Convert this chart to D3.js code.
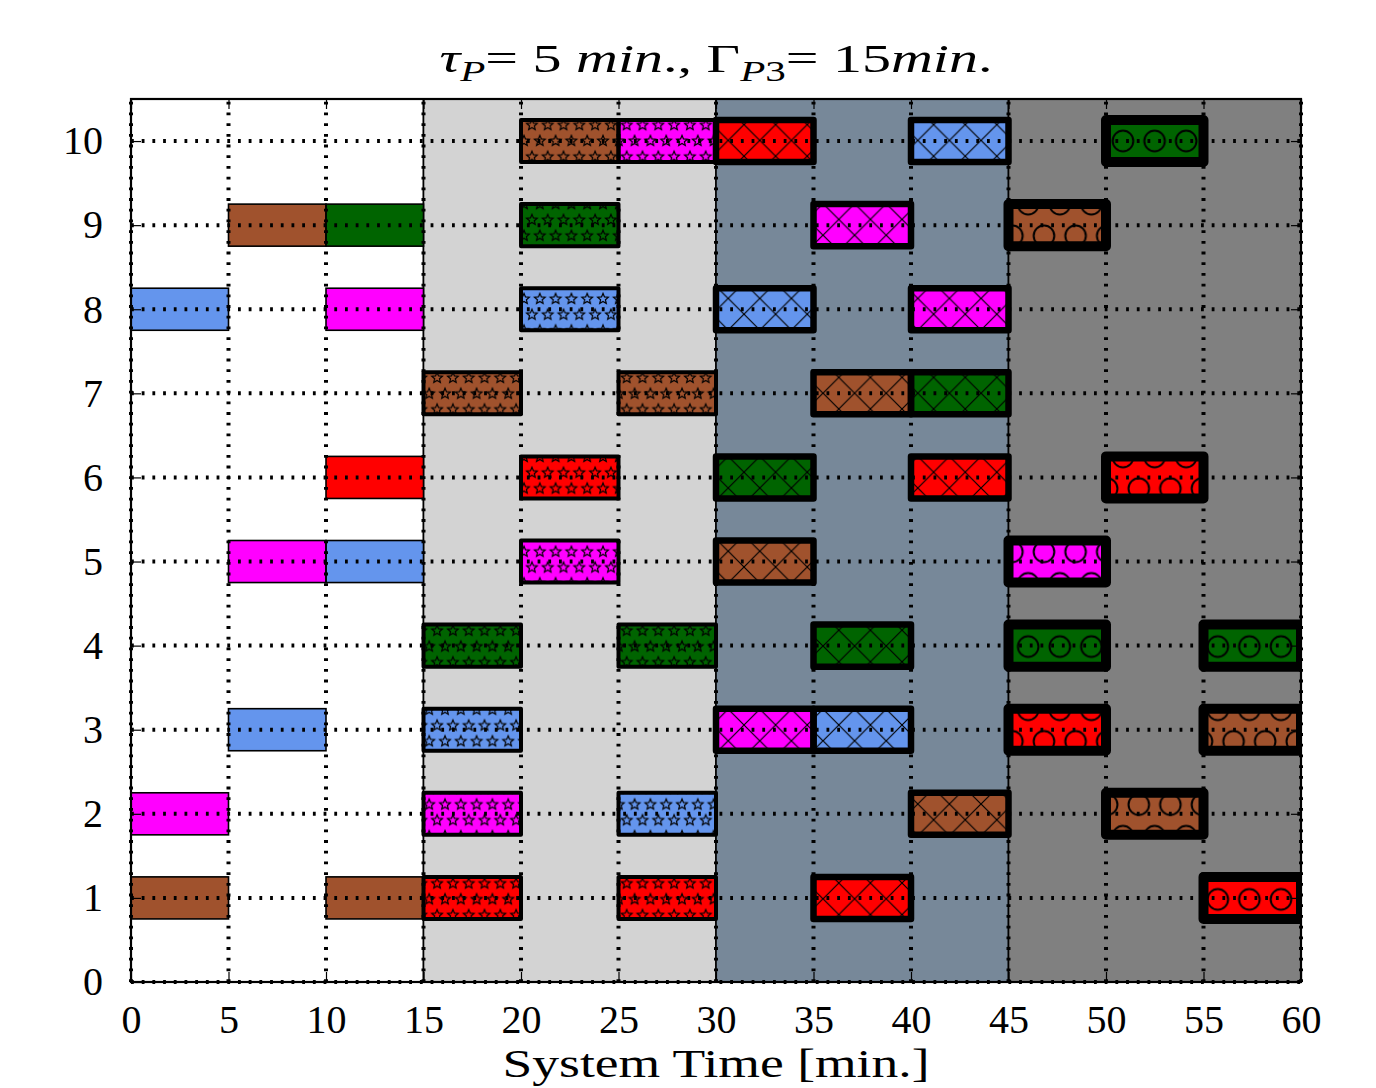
<!DOCTYPE html>
<html>
<head>
<meta charset="utf-8">
<script src="https://cdn.jsdelivr.net/npm/d3@7"></script>
<style>
  html, body { margin: 0; padding: 0; background: #ffffff; }
  svg { display: block; }
  text { font-family: "Liberation Serif", "DejaVu Serif", serif; fill: #000; }
</style>
</head>
<body>
<svg id="chart" width="1376" height="1088"></svg>
<script>
// ---------------- data ----------------
const xTicks = [0, 5, 10, 15, 20, 25, 30, 35, 40, 45, 50, 55, 60];
const yTicks = [0, 1, 2, 3, 4, 5, 6, 7, 8, 9, 10];
const taskDuration = 5;

// phase windows [start, end]
const phaseStarts = [0, 15, 30, 45];
const phaseEnds   = [15, 30, 45, 60];

// tasks per phase: [row, start, product]
const phase1Tasks = [
  [1, 0, "P1"], [1, 10, "P1"],
  [2, 0, "P4"],
  [3, 5, "P3"],
  [5, 5, "P4"], [5, 10, "P3"],
  [6, 10, "P5"],
  [8, 0, "P3"], [8, 10, "P4"],
  [9, 5, "P1"], [9, 10, "P2"]
];
const phase2Tasks = [
  [1, 15, "P5"], [1, 25, "P5"],
  [2, 15, "P4"], [2, 25, "P3"],
  [3, 15, "P3"],
  [4, 15, "P2"], [4, 25, "P2"],
  [5, 20, "P4"],
  [6, 20, "P5"],
  [7, 15, "P1"], [7, 25, "P1"],
  [8, 20, "P3"],
  [9, 20, "P2"],
  [10, 20, "P1"], [10, 25, "P4"]
];
const phase3Tasks = [
  [1, 35, "P5"],
  [2, 40, "P1"],
  [3, 30, "P4"], [3, 35, "P3"],
  [4, 35, "P2"],
  [5, 30, "P1"],
  [6, 30, "P2"], [6, 40, "P5"],
  [7, 35, "P1"], [7, 40, "P2"],
  [8, 30, "P3"], [8, 40, "P4"],
  [9, 35, "P4"],
  [10, 30, "P5"], [10, 40, "P3"]
];
const phase4Tasks = [
  [1, 55, "P5"],
  [2, 50, "P1"],
  [3, 45, "P5"], [3, 55, "P1"],
  [4, 45, "P2"], [4, 55, "P2"],
  [5, 45, "P4"],
  [6, 50, "P5"],
  [9, 45, "P1"],
  [10, 50, "P2"]
];
const phaseTasks = [phase1Tasks, phase2Tasks, phase3Tasks, phase4Tasks];

const products = ["P1", "P2", "P3", "P4", "P5"];

// ---------------- styles ----------------
const productColors = ["#a0522d", "#006400", "#6495ed", "#ff00ff", "#ff0000"];
const phaseBg = ["#ffffff", "#d3d3d3", "#778899", "#808080"];
const phaseEdge = [1.6, 4, 6.5, 10];
const phaseHatch = [null, "stars", "cross", "circles"];

// ---------------- layout ----------------
const svg = d3.select("#chart");
const plot = { left: 131, right: 1301, top: 99, bottom: 982 };

const x = d3.scaleLinear().domain([0, 60]).range([plot.left, plot.right]);
const y = d3.scaleLinear().domain([0, 10.5]).range([plot.bottom, plot.top]);
const color = d3.scaleOrdinal().domain(products).range(productColors);

const defs = svg.append("defs");
defs.append("clipPath").attr("id", "plotClip")
  .append("rect")
  .attr("x", plot.left).attr("y", plot.top)
  .attr("width", plot.right - plot.left).attr("height", plot.bottom - plot.top);

// hatch patterns (user space, so phase is shared like a device-space hatch)
const sBig = 31.6;
// circles (staggered)
(function () {
  const s = sBig, r = 10.3;
  const p = defs.append("pattern").attr("id", "hatch-circles")
    .attr("patternUnits", "userSpaceOnUse")
    .attr("x", 1123).attr("y", 141).attr("width", s).attr("height", 2 * s);
  const pts = [[0, 0], [s, 0], [0, 2 * s], [s, 2 * s], [s / 2, s]];
  pts.forEach(([cx, cy]) => p.append("circle").attr("cx", cx).attr("cy", cy).attr("r", r)
    .attr("fill", "none").attr("stroke", "#000").attr("stroke-width", 2));
})();
// stars (staggered, half spacing)
(function () {
  const s = sBig / 2, R = 5.6, ri = R * 0.45;
  const p = defs.append("pattern").attr("id", "hatch-stars")
    .attr("patternUnits", "userSpaceOnUse")
    .attr("x", 524).attr("y", 141).attr("width", s).attr("height", 2 * s);
  const starPts = [];
  for (let i = 0; i < 10; i++) {
    const a = -Math.PI / 2 + i * Math.PI / 5;
    const rr = i % 2 === 0 ? R : ri;
    starPts.push([rr * Math.cos(a), rr * Math.sin(a)]);
  }
  const pts = [[0, 0], [s, 0], [0, 2 * s], [s, 2 * s], [s / 2, s]];
  pts.forEach(([cx, cy]) => p.append("polygon")
    .attr("points", starPts.map(d => [d[0] + cx, d[1] + cy].join(",")).join(" "))
    .attr("fill", "none").attr("stroke", "#000").attr("stroke-width", 1.2)
    .attr("stroke-linejoin", "miter"));
})();
// cross hatch 'x'
(function () {
  const s = sBig;
  const p = defs.append("pattern").attr("id", "hatch-cross")
    .attr("patternUnits", "userSpaceOnUse")
    .attr("x", 823).attr("y", 646).attr("width", s).attr("height", s);
  p.append("path").attr("d", `M${-s},${-s}L${2 * s},${2 * s}M${-s},${2 * s}L${2 * s},${-s}`)
    .attr("stroke", "#000").attr("stroke-width", 1.2).attr("fill", "none");
})();

// ---------------- backgrounds ----------------
const gBg = svg.append("g");
gBg.selectAll("rect").data(phaseStarts).join("rect")
  .attr("x", d => x(d)).attr("y", plot.top)
  .attr("width", (d, i) => x(phaseEnds[i]) - x(d))
  .attr("height", plot.bottom - plot.top)
  .attr("fill", (d, i) => phaseBg[i])
  .attr("stroke", "#000").attr("stroke-width", 1.6);

// ---------------- bars ----------------
const gBars = svg.append("g").attr("clip-path", "url(#plotClip)");
phaseTasks.forEach((tasks, pi) => {
  const g = gBars.append("g");
  const bx = d => x(d[1]);
  const bw = d => x(d[1] + taskDuration) - x(d[1]);
  const by = d => y(d[0] + 0.25);
  const bh = d => y(d[0] - 0.25) - y(d[0] + 0.25);
  g.selectAll("rect.fill").data(tasks).join("rect").attr("class", "fill")
    .attr("x", bx).attr("y", by).attr("width", bw).attr("height", bh)
    .attr("fill", d => color(d[2]));
  if (phaseHatch[pi]) {
    g.selectAll("rect.hatch").data(tasks).join("rect").attr("class", "hatch")
      .attr("x", bx).attr("y", by).attr("width", bw).attr("height", bh)
      .attr("fill", `url(#hatch-${phaseHatch[pi]})`);
  }
  g.selectAll("rect.edge").data(tasks).join("rect").attr("class", "edge")
    .attr("x", bx).attr("y", by).attr("width", bw).attr("height", bh)
    .attr("fill", "none").attr("stroke", "#000")
    .attr("stroke-width", phaseEdge[pi])
    .attr("stroke-linejoin", pi === 0 ? "miter" : "round");
});

// ---------------- grid (dotted, above bars) ----------------
const gGrid = svg.append("g").attr("stroke", "#000").attr("stroke-width", 4)
  .attr("stroke-dasharray", "2.8,7.9").attr("fill", "none");
gGrid.selectAll("line.v").data(xTicks).join("line").attr("class", "v")
  .attr("x1", d => x(d)).attr("x2", d => x(d))
  .attr("y1", plot.bottom).attr("y2", plot.top);
gGrid.selectAll("line.h").data(yTicks).join("line").attr("class", "h")
  .attr("x1", plot.left).attr("x2", plot.right)
  .attr("y1", d => y(d)).attr("y2", d => y(d));

// ---------------- axes ----------------
const tickLen = 10;
const xAxisB = d3.axisBottom(x).tickValues(xTicks).tickSize(-tickLen).tickPadding(tickLen + 13).tickFormat(d3.format("d"));
const xAxisT = d3.axisTop(x).tickValues(xTicks).tickSize(-tickLen).tickFormat("");
const yAxisL = d3.axisLeft(y).tickValues(yTicks).tickSize(-tickLen).tickPadding(tickLen + 18).tickFormat(d3.format("d"));
const yAxisR = d3.axisRight(y).tickValues(yTicks).tickSize(-tickLen).tickFormat("");

function styleAxis(g) {
  g.select(".domain").remove();
  g.selectAll(".tick line").attr("stroke", "#000").attr("stroke-width", 1.2);
  g.selectAll(".tick text").attr("font-family", "Liberation Serif, DejaVu Serif, serif")
    .attr("font-size", 40).attr("fill", "#000");
}
svg.append("g").attr("transform", `translate(0,${plot.bottom})`).call(xAxisB).call(styleAxis);
svg.append("g").attr("transform", `translate(0,${plot.top})`).call(xAxisT).call(styleAxis);
svg.append("g").attr("transform", `translate(${plot.left},0)`).call(yAxisL).call(styleAxis);
svg.append("g").attr("transform", `translate(${plot.right},0)`).call(yAxisR).call(styleAxis);

// frame
svg.append("rect")
  .attr("x", plot.left).attr("y", plot.top)
  .attr("width", plot.right - plot.left).attr("height", plot.bottom - plot.top)
  .attr("fill", "none").attr("stroke", "#000").attr("stroke-width", 2.2);

// ---------------- title ----------------
const title = svg.append("text").attr("x", 716).attr("y", 72)
  .attr("text-anchor", "middle").attr("font-size", 41)
  .attr("textLength", 553).attr("lengthAdjust", "spacingAndGlyphs");
const sub = 9;
title.append("tspan").attr("font-style", "italic").text("τ");
title.append("tspan").attr("font-style", "italic").attr("font-size", 29).attr("dy", sub).text("P");
title.append("tspan").attr("dy", -sub).text("= 5 ");
title.append("tspan").attr("font-style", "italic").text("min");
title.append("tspan").text("., Γ");
title.append("tspan").attr("font-style", "italic").attr("font-size", 29).attr("dy", sub).text("P");
title.append("tspan").attr("font-size", 29).text("3");
title.append("tspan").attr("dy", -sub).text("= 15");
title.append("tspan").attr("font-style", "italic").text("min");
title.append("tspan").text(".");

// ---------------- x label ----------------
svg.append("text").attr("x", 716).attr("y", 1077)
  .attr("text-anchor", "middle").attr("font-size", 39)
  .attr("textLength", 427).attr("lengthAdjust", "spacingAndGlyphs")
  .text("System Time [min.]");
</script>
</body>
</html>
